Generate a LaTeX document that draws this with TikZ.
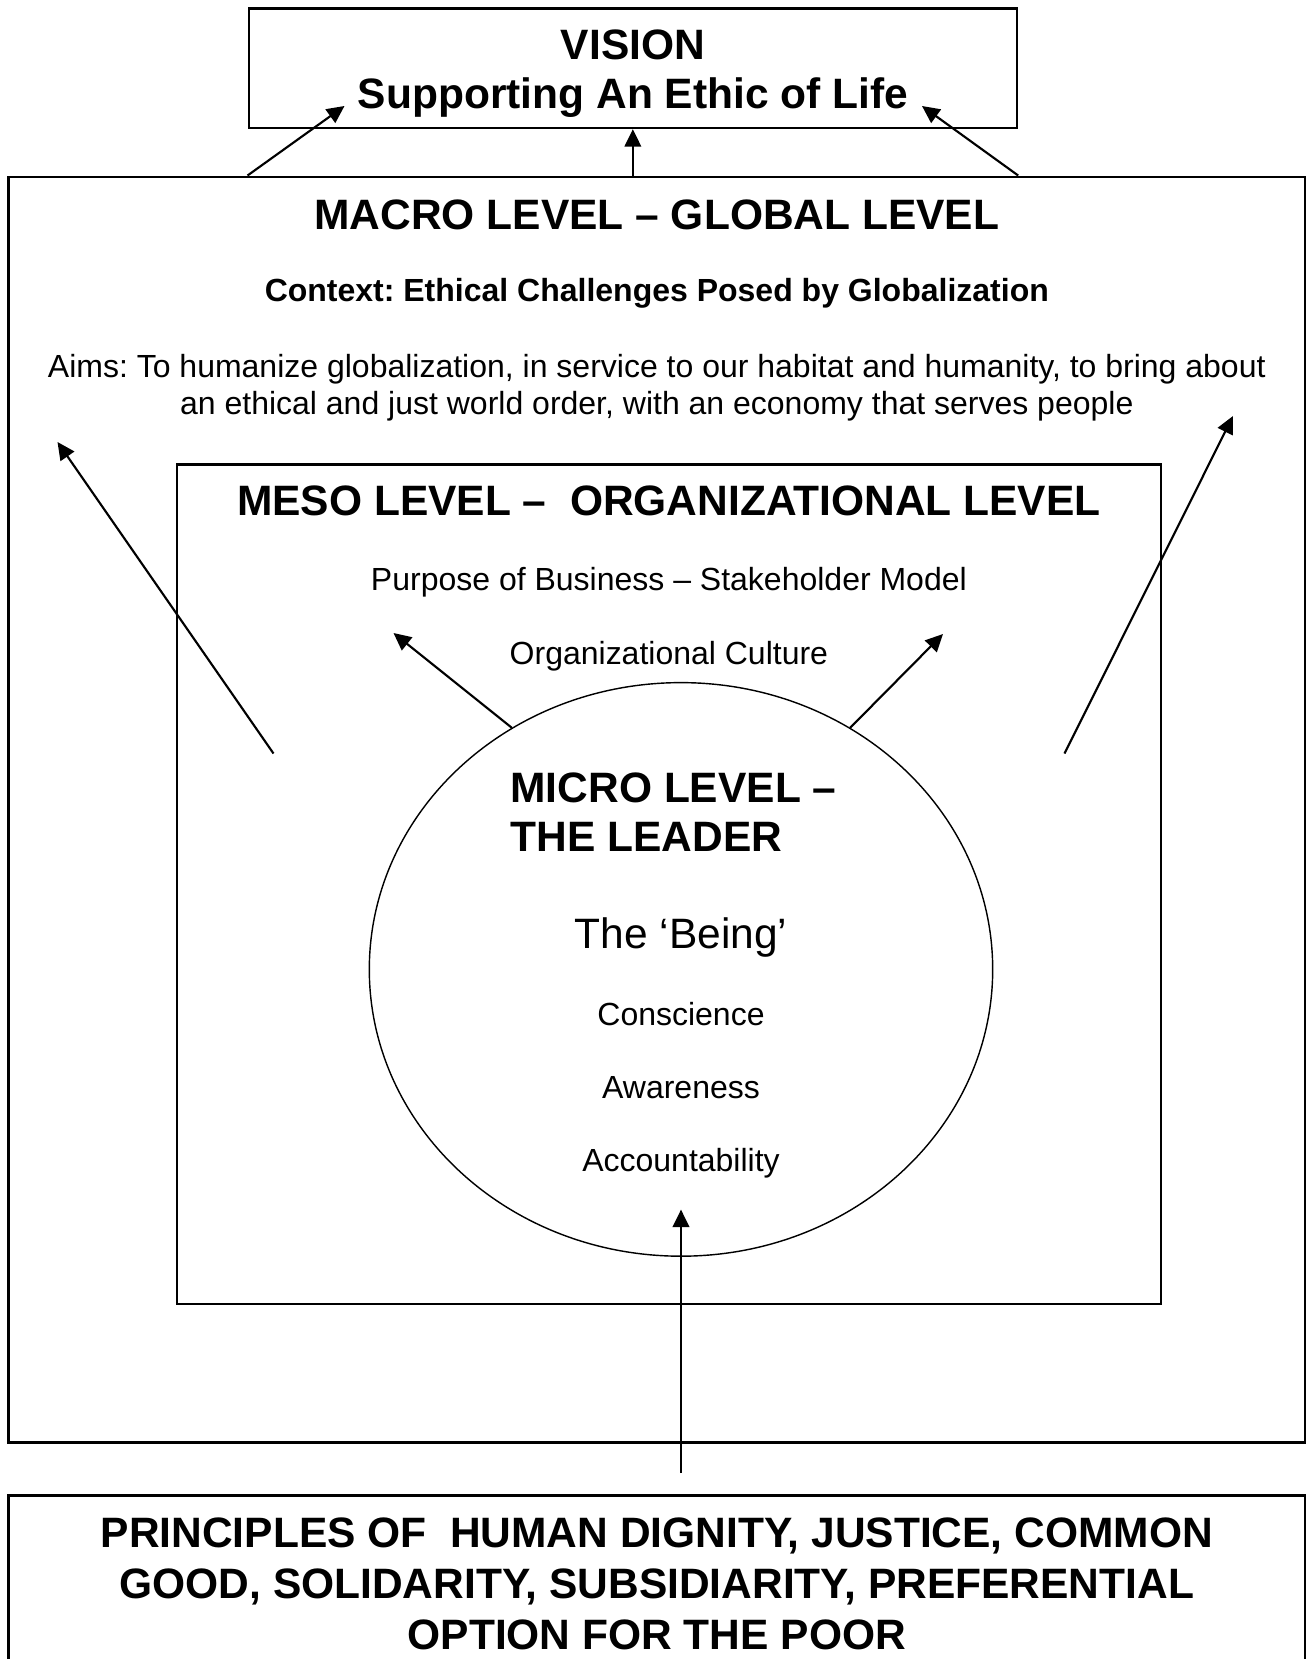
\documentclass[tikz,border=0pt]{standalone}
\usepackage{fontspec}
\setmainfont{Liberation Sans}
\usetikzlibrary{arrows.meta, shapes.geometric, fit}
\frenchspacing

\tikzset{
  caixa/.style = {draw, line width=1pt, inner sep=0pt},
  titulo/.style = {font=\bfseries\fontsize{18}{20.75}\selectfont, align=center, anchor=base, inner sep=0pt},
  texto/.style = {font=\fontsize{13.55}{15.25}\selectfont, align=center, anchor=base, inner sep=0pt},
}

\begin{document}
\begin{tikzpicture}[> = {Triangle[length=7.4pt, width=7pt]}, x=0.4235pt, y=-0.4235pt, line width=0.9pt]
	\clip (0,0) rectangle (1307,1659);

	% caixas
	\node [caixa, fit={(248.7,8.5) (1017,128)}] (vision) {};
	\node [caixa, fit={(8.5,176.7) (1305,1442.5)}] (macro) {};
	\node [caixa, fit={(176.7,464.6) (1161,1304)}] (meso) {};
	\node [caixa, fit={(8.5,1495.5) (1305,1720)}] (principles) {};
	\node [draw, semithick, ellipse, inner sep=0pt, minimum width=264pt, minimum height=242.9pt] (leader) at (681,969.4) {};

	% visão (a base fica na última linha)
	\node [titulo] (visiontxt) at (633,108) {VISION\\Supporting An Ethic of Life};

	% nível macro
	\node [titulo] (macrotxt) at (656.8,229) {MACRO LEVEL – GLOBAL LEVEL};
	\node [texto, font=\bfseries\fontsize{13.55}{15.25}\selectfont] (context) at (656.8,301)
		{Context: Ethical Challenges Posed by Globalization};
	\node [texto] (aims) at (656.8,414)
		{Aims: To humanize globalization, in service to our habitat and humanity, to bring about\\
		 an ethical and just world order, with an economy that serves people};

	% nível meso
	\node [titulo] (mesotxt) at (668.9,515) {MESO LEVEL –\ \ ORGANIZATIONAL LEVEL};
	\node [texto] (purpose) at (668.9,590.5) {Purpose of Business – Stakeholder Model};
	\node [texto] (culture) at (668.9,664) {Organizational Culture};

	% nível micro
	\node [titulo, align=left, anchor=base west] (microtxt) at (509.5,851) {MICRO LEVEL –\\THE LEADER};
	\node [titulo, font=\fontsize{18}{20.75}\selectfont] (being) at (681,948.5) {The ‘Being’};
	\node [texto] (conscience) at (681,1025) {Conscience};
	\node [texto] (awareness) at (681,1098.5) {Awareness};
	\node [texto] (accountability) at (681,1171.5) {Accountability};

	% princípios
	\node [titulo, font=\bfseries\fontsize{18}{21.6}\selectfont] (principlestxt) at (656.8,1649)
		{PRINCIPLES OF\ \ HUMAN DIGNITY, JUSTICE, COMMON\\
		 GOOD, SOLIDARITY, SUBSIDIARITY, PREFERENTIAL\\
		 OPTION FOR THE POOR};

	% setas para a visão
	\coordinate (vl) at (344.5,106);
	\coordinate (vr) at (922,106);
	\draw [->] (macro.north -| vision.west) -- (vl);
	\draw [->] (vision.south |- macro.north) -- (vision.south);
	\draw [->] (macro.north -| vision.east) -- (vr);

	% setas do nível macro
	\coordinate (ml0) at (273.5,753.5);
	\coordinate (ml) at (57.5,442);
	\coordinate (mr0) at (1064.5,753.5);
	\coordinate (mr) at (1233,416);
	\draw [->] (ml0) -- (ml);
	\draw [->] (mr0) -- (mr);

	% setas que saem do líder
	\coordinate (pl) at (393.5,633);
	\coordinate (pr) at (943,634);
	\draw [->] (leader.125) -- (pl);
	\draw [->] (leader.55) -- (pr);

	% seta dos princípios
	\coordinate (bl) at (681,1473);
	\coordinate (bt) at (681,1209.6);
	\draw [->] (bl) -- (bt);
\end{tikzpicture}
\end{document}
